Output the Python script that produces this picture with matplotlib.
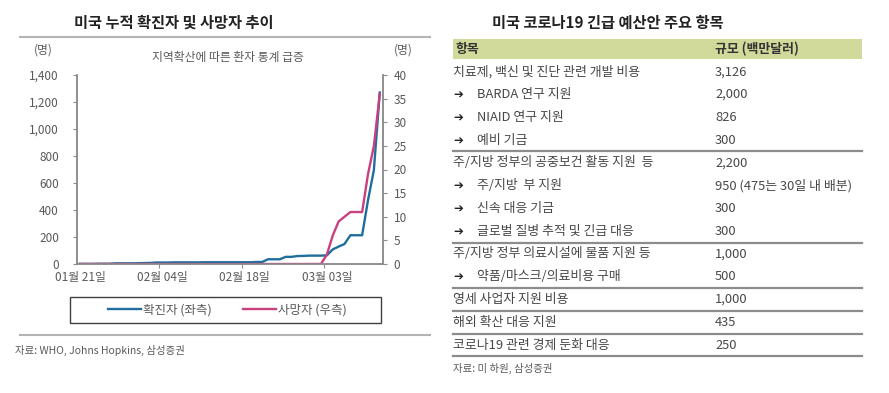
import matplotlib
matplotlib.use("Agg")
import matplotlib.pyplot as plt
from matplotlib.lines import Line2D
from matplotlib.patches import Rectangle
import numpy as np
import pandas as pd

plt.rcParams['font.family'] = ['Noto Sans CJK KR', 'DejaVu Sans']

W, H = 889, 393

# left chart: US cumulative confirmed cases / deaths, daily from 2020-01-21
start_date = "2020-01-21"
confirmed = [1, 1, 1, 2, 2, 2, 5, 5, 5, 5,
             6, 7, 8, 11, 11, 11, 12, 12, 12, 12,
             12, 13, 13, 13, 13, 13, 13, 13, 13, 13,
             15, 15, 35, 35, 35, 53, 53, 59, 60, 62,
             62, 62, 64, 108, 129, 148, 213, 213, 213, 472,
             696, 1270]
deaths = [0, 0, 0, 0, 0, 0, 0, 0, 0, 0,
          0, 0, 0, 0, 0, 0, 0, 0, 0, 0,
          0, 0, 0, 0, 0, 0, 0, 0, 0, 0,
          0, 0, 0, 0, 0, 0, 0, 0, 0, 0,
          0, 0, 2, 6, 9, 10, 11, 11, 11, 19,
          25, 36]
tick_dates = ["2020-01-21", "2020-02-04", "2020-02-18", "2020-03-03"]
tick_labels = ["01월 21일", "02월 04일", "02월 18일", "03월 03일"]
left_ticks = [0, 200, 400, 600, 800, 1000, 1200, 1400]
right_ticks = [0, 5, 10, 15, 20, 25, 30, 35, 40]

# right table: US emergency budget items (million USD)
items = ["치료제, 백신 및 진단 관련 개발 비용", "BARDA 연구 지원", "NIAID 연구 지원",
         "예비 기금", "주/지방 정부의 공중보건 활동 지원  등", "주/지방  부 지원",
         "신속 대응 기금", "글로벌 질병 추적 및 긴급 대응",
         "주/지방 정부 의료시설에 물품 지원 등", "약품/마스크/의료비용 구매",
         "영세 사업자 지원 비용", "해외 확산 대응 지원", "코로나19 관련 경제 둔화 대응"]
is_sub = [False, True, True, True, False, True, True, True, False, True,
          False, False, False]
amounts = ["3,126", "2,000", "826", "300", "2,200", "950 (475는 30일 내 배분)",
           "300", "300", "1,000", "500", "1,000", "435", "250"]

BLUE = "#1f6e9e"
PINK = "#c8407f"
GRAY = "#595959"
SPINE = "#8c8c8c"
TEXT = "#474747"


def fx(px):
    return px / W


def fy(py):
    return 1 - py / H


fig = plt.figure(figsize=(W / 100, H / 100), dpi=100)

# ---- left chart ----
dates = pd.date_range(start_date, periods=len(confirmed), freq="D")
x = np.arange(len(dates))
tick_pos = dates.get_indexer(pd.to_datetime(tick_dates))

ax = fig.add_axes([fx(77), fy(264), fx(382.7) - fx(77), (264 - 75) / H])
ax.plot(x, confirmed, color=BLUE, lw=1.7)
ax2 = ax.twinx()
ax2.plot(x, deaths, color=PINK, lw=1.7)

ax.set_xlim(-0.5, len(x) - 0.5)
ax.set_ylim(0, 1400)
ax2.set_ylim(0, 40)
ax.set_yticks(left_ticks)
ax.set_yticklabels([f"{v:,}" for v in left_ticks])
ax2.set_yticks(right_ticks)

# tick marks sit between days, labels sit on the day
ax.set_xticks(tick_pos[1:] - 0.5)
ax.set_xticklabels([])
ax.set_xticks(tick_pos, minor=True)
ax.set_xticklabels(tick_labels, minor=True)

for a in (ax, ax2):
    a.spines["top"].set_visible(False)
    for s in ("left", "right", "bottom"):
        a.spines[s].set_color(SPINE)
        a.spines[s].set_linewidth(1.1)
ax.tick_params(axis="y", colors=SPINE, labelcolor=GRAY, labelsize=8.5,
               length=3, pad=10)
ax2.tick_params(axis="y", colors=SPINE, labelcolor=GRAY, labelsize=8.5,
                length=3, pad=5)
ax.tick_params(axis="x", which="major", colors=SPINE, length=3)
ax.tick_params(axis="x", which="minor", length=0, labelcolor=GRAY,
               labelsize=8.5, pad=5)

fig.text(fx(174), fy(23), "미국 누적 확진자 및 사망자 추이", ha="center",
         va="center", fontsize=11, fontweight="bold", color="#222222")
fig.add_artist(Line2D([fx(20), fx(430)], [fy(37), fy(37)], color="#b4b4b4",
                      lw=1.5, transform=fig.transFigure))
fig.text(fx(43), fy(50), "(명)", ha="center", va="center", fontsize=8.5,
         color=GRAY)
fig.text(fx(403), fy(50), "(명)", ha="center", va="center", fontsize=8.5,
         color=GRAY)
fig.text(fx(228), fy(57), "지역확산에 따른 환자 통계 급증", ha="center",
         va="center", fontsize=8.5, color=GRAY)

handles = [Line2D([], [], color=BLUE, lw=1.7), Line2D([], [], color=PINK, lw=1.7)]
fig.legend(handles, ["확진자 (좌측)", "사망자 (우측)"], loc="center",
           bbox_to_anchor=(fx(227), fy(310)), ncol=2, frameon=False,
           fontsize=9, handlelength=2.7, handletextpad=0.1,
           columnspacing=2.5, labelcolor=GRAY)
fig.add_artist(Rectangle((fx(70), fy(323)), fx(381) - fx(70), (323 - 297) / H,
                         fill=False, edgecolor="#404040", lw=1.0,
                         transform=fig.transFigure))
fig.add_artist(Line2D([fx(20), fx(430)], [fy(335), fy(335)], color="#b4b4b4",
                      lw=1.5, transform=fig.transFigure))
fig.text(fx(15), fy(350), "자료: WHO, Johns Hopkins, 삼성증권", ha="left",
         va="center", fontsize=7.5, color=GRAY)

# ---- right table ----
tx0, tx1 = 453, 862
val_x = 715
row0 = 71.7
pitch = 22.78

fig.text(fx(608), fy(23), "미국 코로나19 긴급 예산안 주요 항목", ha="center",
         va="center", fontsize=11, fontweight="bold", color="#222222")
head_y = row0 - pitch
fig.add_artist(Rectangle((fx(tx0), fy(head_y + 10)), fx(tx1) - fx(tx0), 20 / H,
                         facecolor="#d2da9b", edgecolor="none",
                         transform=fig.transFigure))
fig.text(fx(tx0 + 2), fy(head_y), "항목", ha="left", va="center", fontsize=9.3,
         fontweight="bold", color="#333333")
fig.text(fx(val_x), fy(head_y), "규모 (백만달러)", ha="left", va="center",
         fontsize=9.3, fontweight="bold", color="#333333")

for i, (label, amt, sub) in enumerate(zip(items, amounts, is_sub)):
    y = row0 + i * pitch
    if sub:
        fig.text(fx(tx0), fy(y), "➔", ha="left", va="center", fontsize=8.5,
                 color="#222222", family=["DejaVu Sans"])
        fig.text(fx(477), fy(y), label, ha="left", va="center", fontsize=9.3,
                 color=TEXT)
    else:
        fig.text(fx(tx0), fy(y), label, ha="left", va="center", fontsize=9.3,
                 color=TEXT)
    fig.text(fx(val_x), fy(y), amt, ha="left", va="center", fontsize=9.3,
             color=TEXT)
    # a rule closes every group (main item plus its sub items)
    last = i == len(items) - 1
    if last or not is_sub[i + 1]:
        yl = y + pitch / 2
        fig.add_artist(Line2D([fx(tx0), fx(tx1)], [fy(yl), fy(yl)],
                              color="#8c8c8c", lw=1.6,
                              transform=fig.transFigure))

fig.text(fx(tx0), fy(368), "자료: 미 하원, 삼성증권", ha="left", va="center",
         fontsize=7.5, color=GRAY)

fig.savefig("out.png", dpi=100)
